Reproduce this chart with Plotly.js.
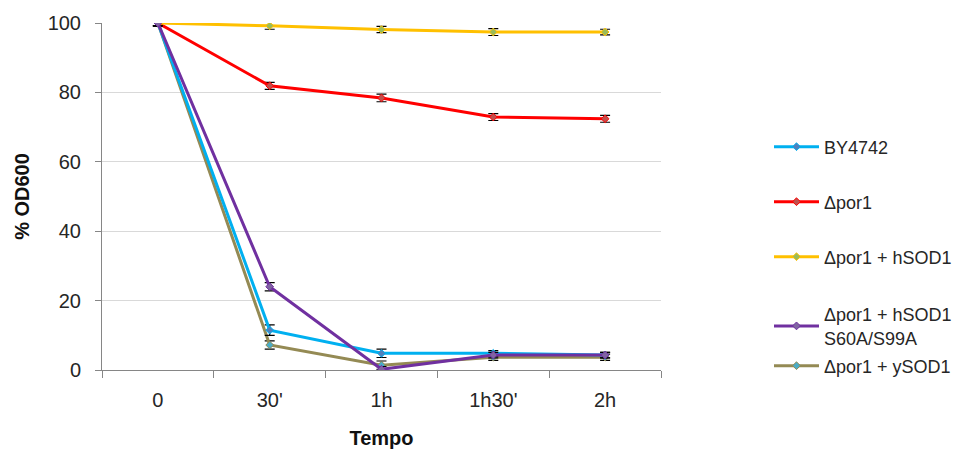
<!DOCTYPE html>
<html>
<head>
<meta charset="utf-8">
<script src="https://cdn.plot.ly/plotly-3.0.1.min.js"></script>
<style>html,body{margin:0;padding:0;background:#fff;}#chart{width:965px;height:450px;}</style>
</head>
<body>
<div id="chart"></div>
<script>
const categories = ["0", "30'", "1h", "1h30'", "2h"];
const seriesNames = ["BY4742", "Δpor1", "Δpor1 + hSOD1", "Δpor1 + hSOD1<br>S60A/S99A", "Δpor1 + ySOD1"];
const by4742 = [100, 11.5, 4.8, 4.8, 4.3];
const por1 = [100, 81.9, 78.4, 72.9, 72.4];
const por1hSOD1 = [100, 99.2, 98.1, 97.4, 97.4];
const por1hSOD1mut = [100, 24.0, 0.2, 4.3, 4.3];
const por1ySOD1 = [100, 7.2, 1.4, 3.7, 3.7];
const err_by4742 = [0.8, 1.5, 1.2, 0.8, 0.8];
const err_por1 = [0.8, 1.0, 1.1, 1.0, 1.0];
const err_hSOD1 = [0.8, 1.0, 0.9, 1.0, 0.8];
const err_mut = [0.8, 1.2, 0.8, 0.8, 0.8];
const err_ySOD1 = [0.8, 1.2, 1.2, 0.9, 0.9];

const values = [by4742, por1, por1hSOD1, por1hSOD1mut, por1ySOD1];
const errors = [err_by4742, err_por1, err_hSOD1, err_mut, err_ySOD1];
const colors = ["#00B0F0", "#FF0000", "#FFC000", "#7030A0", "#948A54"];
const markerColors = ["#4F81BD", "#C0504D", "#9BBB59", "#8064A2", "#4BACC6"];
const legendIds = ["legend", "legend2", "legend3", "legend4", "legend5"];
const order = [4, 0, 1, 2, 3];

const traces = order.map(i => ({
  type: "scatter",
  mode: "lines+markers",
  x: categories,
  y: values[i],
  name: seriesNames[i],
  legend: legendIds[i],
  showlegend: true,
  line: {color: colors[i], width: 3},
  marker: {symbol: "diamond", size: 6, color: markerColors[i], line: {color: colors[i], width: 1}},
  error_y: {type: "data", array: errors[i], visible: true, color: "#000000", thickness: 1.2, width: 5}
}));

const legY = [1 - 147 / 450, 1 - 202 / 450, 1 - 257 / 450, 1 - 326 / 450, 1 - 366 / 450];
const legendFont = {family: "Liberation Sans, Arial, sans-serif", size: 18, color: "#262626"};
const layout = {
  width: 965, height: 450,
  showlegend: true,
  margin: {l: 102, r: 304, t: 23, b: 80},
  paper_bgcolor: "#fff", plot_bgcolor: "#fff",
  font: {family: "Liberation Sans, Arial, sans-serif", size: 20, color: "#262626"},
  xaxis: {
    type: "category", range: [-0.5, 4.5],
    showgrid: false, showline: true, linecolor: "#868686", linewidth: 1,
    ticks: "outside", tickson: "boundaries", ticklen: 7, tickcolor: "#868686",
    tickfont: {size: 20, color: "#262626"},
    ticklabelstandoff: 12,
    title: {text: "<b>Tempo</b>", font: {size: 20, color: "#111"}, standoff: 20}
  },
  yaxis: {
    range: [0, 100], dtick: 20, showgrid: true, gridcolor: "#D9D9D9", gridwidth: 1,
    showline: true, linecolor: "#868686", linewidth: 1, zeroline: false,
    ticks: "outside", ticklen: 6, tickcolor: "#868686",
    tickfont: {size: 20, color: "#262626"},
    ticklabelstandoff: 10,
    title: {text: "<b>% OD600</b>", font: {size: 20, color: "#111"}, standoff: 12}
  }
};
legendIds.forEach((id, i) => {
  layout[id] = {xref: "container", yref: "container", x: 769 / 965, xanchor: "left",
    y: legY[i], yanchor: "middle",
    bgcolor: "rgba(0,0,0,0)", font: legendFont, itemwidth: 45};
});

Plotly.newPlot("chart", traces, layout, {displayModeBar: false});
</script>
</body>
</html>
